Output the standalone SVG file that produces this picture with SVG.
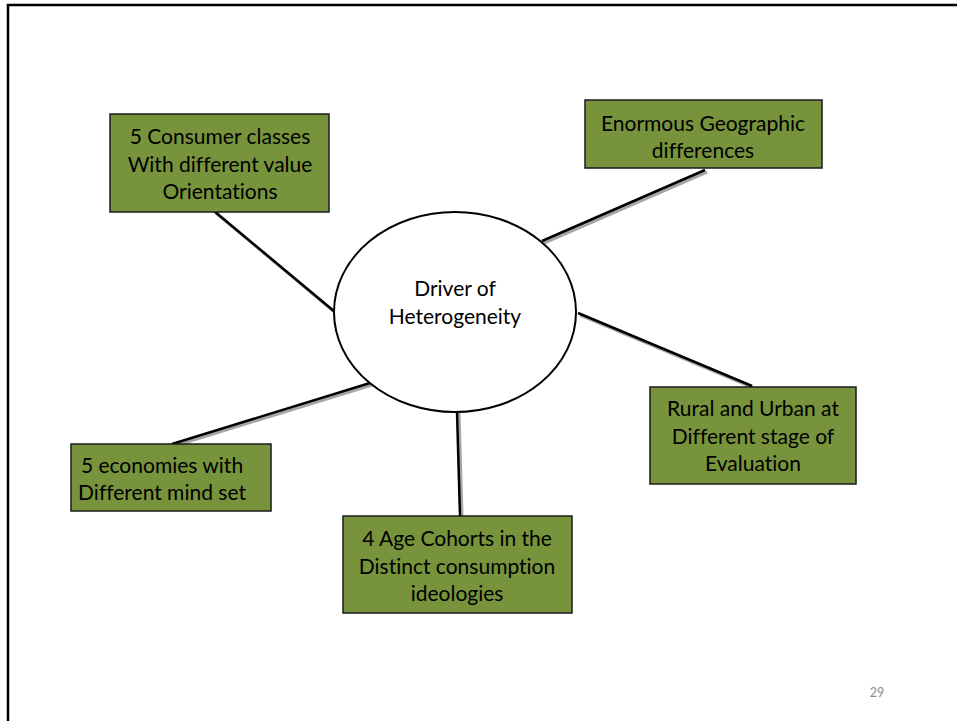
<svg xmlns="http://www.w3.org/2000/svg" width="957" height="721" viewBox="0 0 957 721">
<style>
.box{fill:#77933C;stroke:#1a1a1a;stroke-width:1.5}
.t{font-family:Lato,"Liberation Sans",sans-serif;font-size:21px;fill:#000;text-anchor:middle;font-variant-ligatures:none;font-feature-settings:"liga" 0}
.sh{stroke:#a6a6a6;stroke-width:3;fill:none}
.ln{stroke:#000;stroke-width:2.5;fill:none}
</style>
<rect width="957" height="721" fill="#fff"/>
<path d="M8,721 V5 H957" fill="none" stroke="#000" stroke-width="2.5"/>
<g id="connectors">
<line class="sh" x1="216" y1="213" x2="337" y2="314"/>
<line class="ln" x1="214" y1="211" x2="335" y2="312"/>
<line class="sh" x1="544" y1="243" x2="707" y2="172"/>
<line class="ln" x1="542" y1="241" x2="705" y2="170"/>
<line class="sh" x1="580" y1="315" x2="754" y2="388"/>
<line class="ln" x1="578" y1="313" x2="752" y2="386"/>
<line class="sh" x1="372" y1="385" x2="174" y2="446"/>
<line class="ln" x1="370" y1="383" x2="172" y2="444"/>
<line class="sh" x1="459" y1="413" x2="462" y2="516"/>
<line class="ln" x1="457" y1="412" x2="460" y2="516"/>
</g>
<g id="center">
<ellipse cx="455" cy="312" rx="121" ry="100" fill="#fff" stroke="#000" stroke-width="2"/>
<text class="t" x="455" y="296">Driver of</text>
<text class="t" x="455" y="324">Heterogeneity</text>
</g>
<g id="n1">
<rect class="box" x="110" y="114" width="219" height="98"/>
<text class="t" x="220" y="144">5 Consumer classes</text>
<text class="t" x="220" y="172">With different value</text>
<text class="t" x="220" y="199">Orientations</text>
</g>
<g id="n2">
<rect class="box" x="585" y="100" width="237" height="68"/>
<text class="t" x="703" y="131">Enormous Geographic</text>
<text class="t" x="703" y="158">differences</text>
</g>
<g id="n3">
<rect class="box" x="650" y="387" width="206" height="97"/>
<text class="t" x="753" y="416">Rural and Urban at</text>
<text class="t" x="753" y="444">Different stage of</text>
<text class="t" x="753" y="471">Evaluation</text>
</g>
<g id="n4">
<rect class="box" x="71" y="444" width="200" height="67"/>
<text class="t" x="162" y="473">5 economies with</text>
<text class="t" x="162" y="500">Different mind set</text>
</g>
<g id="n5">
<rect class="box" x="343" y="516" width="229" height="97"/>
<text class="t" x="457" y="546">4 Age Cohorts in the</text>
<text class="t" x="457" y="574">Distinct consumption</text>
<text class="t" x="457" y="601">ideologies</text>
</g>
<text x="877" y="697" font-family="Lato,'Liberation Sans',sans-serif" font-size="12.5" fill="#8c8c8c" text-anchor="middle">29</text>
</svg>
